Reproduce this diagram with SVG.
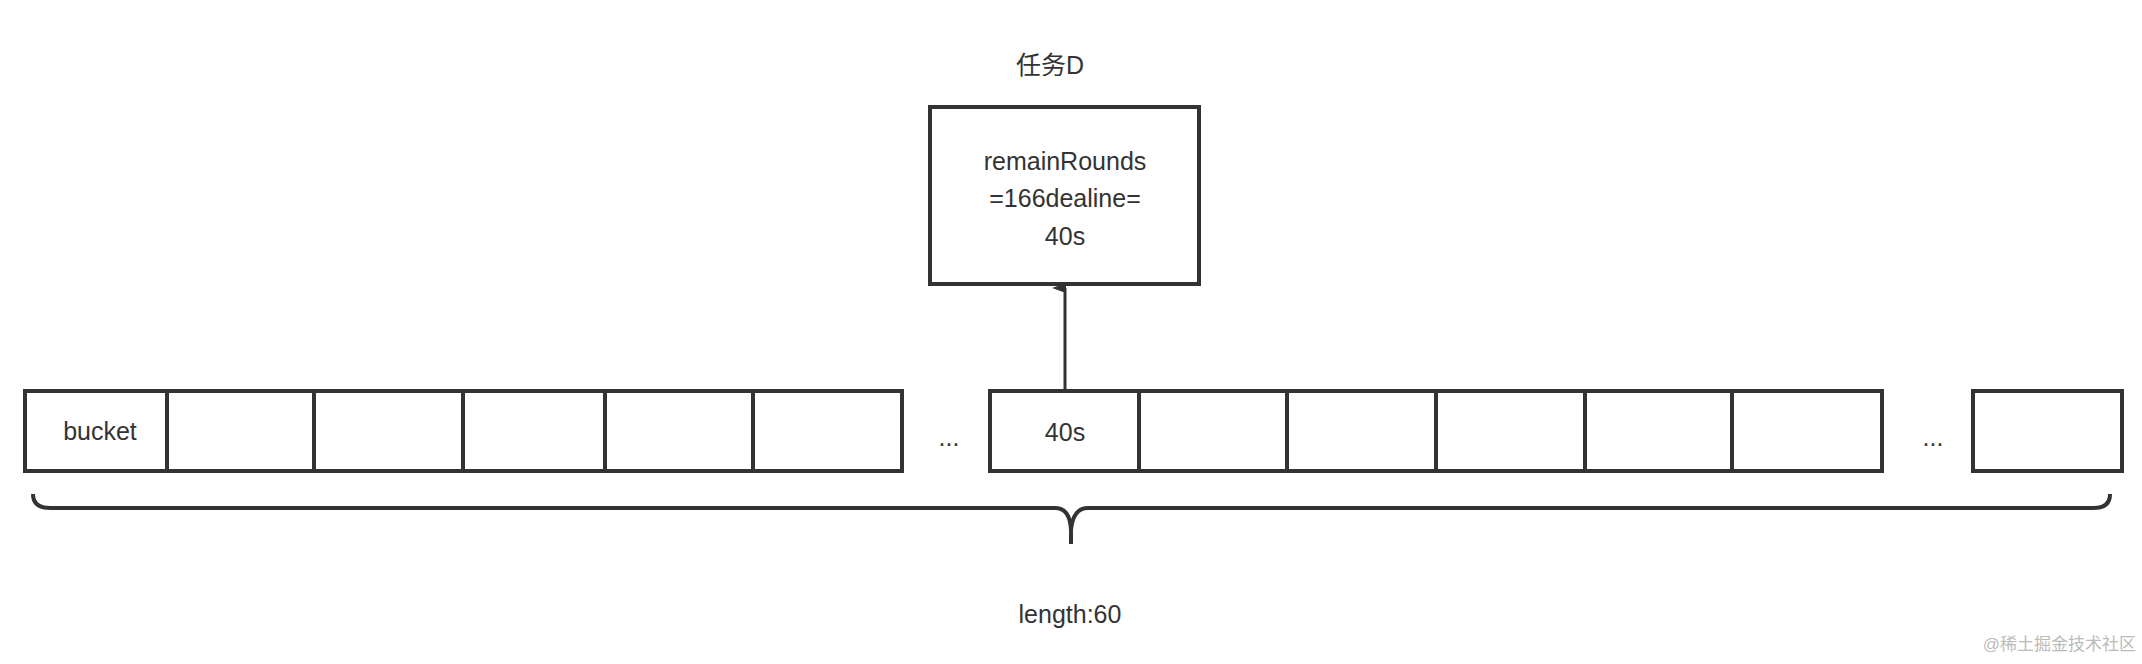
<svg xmlns="http://www.w3.org/2000/svg" width="2142" height="664" viewBox="0 0 2142 664">
<style>
.c{fill:#fff;stroke:#333;stroke-width:4}
.t{font-family:"Liberation Sans","Noto Sans CJK SC",sans-serif;font-size:25px;fill:#333;text-anchor:middle}
</style>
<defs><marker id="a" markerWidth="10" markerHeight="14" refX="5" refY="13" orient="auto-start-reverse" markerUnits="userSpaceOnUse" viewBox="0 0 10 14"><path d="M0,14 L5,0 L10,14 Z" fill="#333"/></marker>
</defs>
<rect width="2142" height="664" fill="#fff"/>
<g id="cells">
<rect class="c" x="25" y="391" width="142" height="80"/>
<rect class="c" x="167" y="391" width="147" height="80"/>
<rect class="c" x="314" y="391" width="149" height="80"/>
<rect class="c" x="463" y="391" width="142" height="80"/>
<rect class="c" x="605" y="391" width="148" height="80"/>
<rect class="c" x="753" y="391" width="149" height="80"/>
<rect class="c" x="990" y="391" width="149" height="80"/>
<rect class="c" x="1139" y="391" width="148" height="80"/>
<rect class="c" x="1287" y="391" width="149" height="80"/>
<rect class="c" x="1436" y="391" width="149" height="80"/>
<rect class="c" x="1585" y="391" width="147" height="80"/>
<rect class="c" x="1732" y="391" width="150" height="80"/>
<rect class="c" x="1973" y="391" width="149" height="80"/>
<text class="t" x="100" y="440" font-size="24">bucket</text>
<text class="t" x="1065" y="441" font-size="27">40s</text>
<text class="t" x="949" y="446">...</text>
<text class="t" x="1933" y="446">...</text>
</g>
<g id="task">
<rect class="c" x="930" y="107" width="269" height="177"/>
<text class="t" x="1065" y="170" font-size="27">remainRounds</text>
<text class="t" x="1065" y="207" font-size="27">=166dealine=</text>
<text class="t" x="1065" y="245" font-size="27">40s</text>
<text class="t" x="1050" y="74" font-size="25">任务D</text>
</g>
<g id="connectors">
<line x1="1065" y1="389" x2="1065" y2="288" stroke="#333" stroke-width="3" marker-end="url(#a)"/>
<path d="M33,494 Q33,508 50,508 L1055,508 Q1070,508 1071,530 L1071,544 M1071,530 Q1073,508 1088,508 L2094,508 Q2110,508 2110,494" fill="none" stroke="#333" stroke-width="4"/>
</g>
<text class="t" x="1070" y="623" font-size="27">length:60</text>
<text x="2136" y="650" font-family="Liberation Sans,Noto Sans CJK SC,sans-serif" font-size="17" fill="#bbb" text-anchor="end">@稀土掘金技术社区</text>
</svg>
